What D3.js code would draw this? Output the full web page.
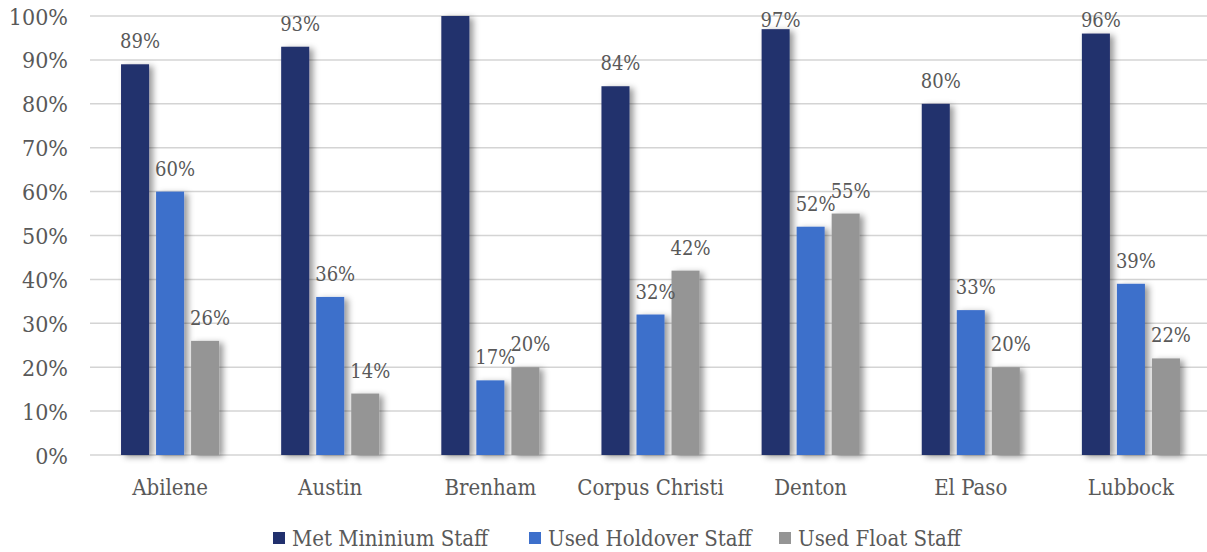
<!DOCTYPE html>
<html>
<head>
<meta charset="utf-8">
<script src="https://cdn.jsdelivr.net/npm/d3@7"></script>
<style>
  html, body { margin: 0; padding: 0; background: #ffffff; }
  svg { display: block; }
  text { font-family: "DejaVu Serif Condensed", "DejaVu Serif", serif; fill: #595959; }
</style>
</head>
<body>
<svg id="chart" width="1207" height="552"></svg>
<script>
// Staffing outcomes by location (percent of shifts)
const categories = ["Abilene", "Austin", "Brenham", "Corpus Christi", "Denton", "El Paso", "Lubbock"];
const seriesNames = ["Met Mininium Staff", "Used Holdover Staff", "Used Float Staff"];
const metMinimum = [89, 93, 100, 84, 97, 80, 96];
const usedHoldover = [60, 36, 17, 32, 52, 33, 39];
const usedFloat = [26, 14, 20, 42, 55, 20, 22];
const yTicks = [0, 10, 20, 30, 40, 50, 60, 70, 80, 90, 100];

const seriesValues = [metMinimum, usedHoldover, usedFloat];
const colors = ["#21306d", "#3d6fcb", "#959595"];

const svg = d3.select("#chart");
const W = 1207, H = 552;
const plot = { left: 90, right: 1211, top: 16, bottom: 455 };

const defs = svg.append("defs");
const shadow = defs.append("filter").attr("id", "barShadow")
  .attr("x", "-30%").attr("y", "-10%").attr("width", "180%").attr("height", "130%");
shadow.append("feDropShadow")
  .attr("dx", 4).attr("dy", 2).attr("stdDeviation", 3)
  .attr("flood-color", "#000").attr("flood-opacity", 0.4);

const x0 = d3.scaleBand().domain(categories).range([plot.left, plot.right]).padding(0);
const x1 = d3.scaleBand().domain(seriesNames).range([0, x0.bandwidth()])
  .paddingInner(0.2).paddingOuter(0.886);
const y = d3.scaleLinear().domain([0, 100]).range([plot.bottom, plot.top]);

// horizontal gridlines
svg.append("g").selectAll("line").data(yTicks).join("line")
  .attr("x1", plot.left).attr("x2", W)
  .attr("y1", d => y(d)).attr("y2", d => y(d))
  .attr("stroke", "#d4d4d4").attr("stroke-width", 1.5);

// y axis labels
const yAxis = d3.axisLeft(y).tickValues(yTicks).tickSize(0).tickPadding(0).tickFormat(d => d + "%");
const yg = svg.append("g").attr("transform", `translate(${plot.left - 22},0)`).call(yAxis);
yg.select(".domain").remove();
yg.selectAll("text").style("font-size", "23px").attr("fill", "#595959").attr("dy", "0.35em");

// x axis labels
const xAxis = d3.axisBottom(x0).tickSize(0).tickPadding(0);
const xg = svg.append("g").attr("transform", `translate(0,${plot.bottom + 32})`).call(xAxis);
xg.select(".domain").remove();
xg.selectAll("text").style("font-size", "22px").attr("fill", "#595959").attr("dy", "0.35em");

// bars
const rows = [];
categories.forEach((c, i) => {
  seriesNames.forEach((s, j) => rows.push({ cat: c, series: s, idx: j, value: seriesValues[j][i] }));
});

svg.append("g").selectAll("rect").data(rows).join("rect")
  .attr("x", d => x0(d.cat) + x1(d.series))
  .attr("y", d => y(d.value))
  .attr("width", x1.bandwidth())
  .attr("height", d => y(0) - y(d.value))
  .attr("fill", d => colors[d.idx])
  .attr("filter", "url(#barShadow)");

// value labels; near the top they are held inside the plot, and a full 100% bar carries none
svg.append("g").selectAll("text").data(rows.filter(d => d.value < 100)).join("text")
  .attr("x", d => x0(d.cat) + x1(d.series) + x1.bandwidth() / 2 + 5)
  .attr("y", d => Math.max(y(d.value) - 16, 27))
  .attr("text-anchor", "middle")
  .style("font-size", "20px")
  .text(d => d.value + "%");

// legend
const legendItems = [
  { name: seriesNames[0], x: 273 },
  { name: seriesNames[1], x: 529 },
  { name: seriesNames[2], x: 779 }
];
const lg = svg.append("g").selectAll("g").data(legendItems).join("g")
  .attr("transform", d => `translate(${d.x},538)`);
lg.append("rect").attr("x", 0).attr("y", -6).attr("width", 12).attr("height", 12)
  .attr("fill", (d, i) => colors[i]);
lg.append("text").attr("x", 19).attr("dy", "0.35em")
  .style("font-size", "22px").text(d => d.name);
</script>
</body>
</html>
